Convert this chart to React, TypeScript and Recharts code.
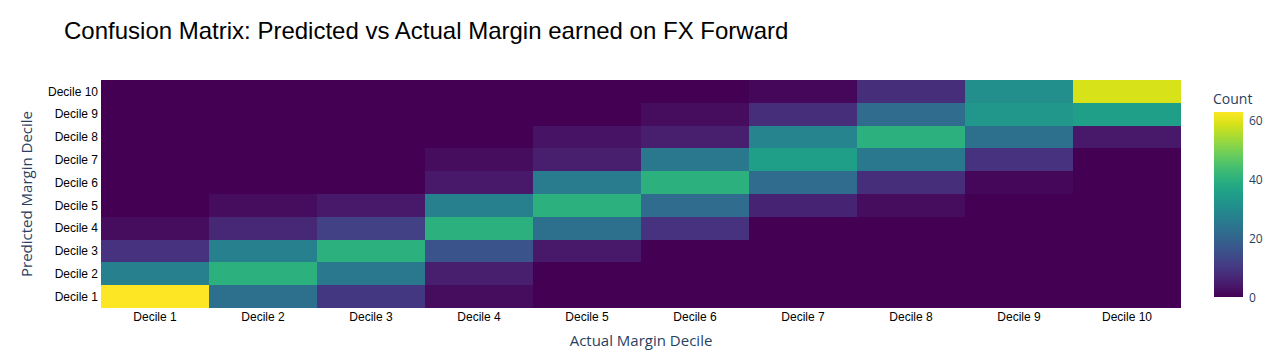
import { Bar, BarChart, Cell, XAxis, YAxis } from "recharts";

const deciles = ["Decile 1", "Decile 2", "Decile 3", "Decile 4", "Decile 5", "Decile 6", "Decile 7", "Decile 8", "Decile 9", "Decile 10"];

// counts per predicted decile (row), across actual deciles 1..10 (columns)
const predicted1 = [63, 23, 10, 2, 0, 0, 0, 0, 0, 0];
const predicted2 = [27, 40, 25, 5, 0, 0, 0, 0, 0, 0];
const predicted3 = [9, 27, 40, 16, 4, 0, 0, 0, 0, 0];
const predicted4 = [2, 7, 12, 40, 23, 9, 0, 0, 0, 0];
const predicted5 = [0, 2, 4, 27, 40, 22, 6, 2, 0, 0];
const predicted6 = [0, 0, 0, 4, 26, 40, 22, 8, 1, 0];
const predicted7 = [0, 0, 0, 2, 5, 25, 35, 25, 9, 0];
const predicted8 = [0, 0, 0, 0, 3, 5, 28, 40, 23, 4];
const predicted9 = [0, 0, 0, 0, 0, 2, 8, 22, 33, 35];
const predicted10 = [0, 0, 0, 0, 0, 0, 1, 8, 31, 59];

const rows = [predicted1, predicted2, predicted3, predicted4, predicted5, predicted6, predicted7, predicted8, predicted9, predicted10];
const zMax = 63;
const colorbarTicks = [0, 20, 40, 60];

const viridis = ["#440154", "#48186a", "#472d7b", "#424086", "#3b528b", "#33638d", "#2c728e", "#26828e", "#21918c", "#1fa088", "#28ae80", "#3fbc73", "#5ec962", "#84d44b", "#addc30", "#d8e219", "#fde725"];

function hex(c: string) {
    return [1, 3, 5].map(i => parseInt(c.slice(i, i + 2), 16));
}

function colorFor(v: number) {
    const t = Math.max(0, Math.min(1, v / zMax)) * (viridis.length - 1);
    const i = Math.min(Math.floor(t), viridis.length - 2);
    const f = t - i;
    const a = hex(viridis[i]);
    const b = hex(viridis[i + 1]);
    const m = a.map((x, k) => Math.round(x + (b[k] - x) * f));
    return `rgb(${m[0]},${m[1]},${m[2]})`;
}

const chartData = deciles.map((d) => {
    const entry: Record<string, string | number> = { actual: d };
    rows.forEach((_, r) => { entry[`p${r}`] = 1; });
    return entry;
});

const navy = "#2a3f5f";

export default function App() {
    const barTop = 104;
    const barBottom = 289;
    const cbY = (v: number) => barBottom - (v / zMax) * (barBottom - barTop);

    return (
        <div style={{ position: "relative", width: 1265, height: 352 }}>
            {/* plot width 1080 so each column band is a whole 108px */}
            <BarChart
                width={1265}
                height={352}
                data={chartData}
                margin={{ top: 72, right: 92, left: 23, bottom: 2 }}
                barCategoryGap={0}
                barGap={0}
                style={{ shapeRendering: "crispEdges" }}
            >
                <XAxis
                    dataKey="actual"
                    axisLine={false}
                    tickLine={false}
                    tickSize={2}
                    height={50}
                    tick={{ fontSize: 12, fill: "#000", fontFamily: "Liberation Sans, Arial" }}
                    interval={0}
                />
                <YAxis
                    type="number"
                    domain={[0, 10]}
                    ticks={deciles.map((_, i) => i + 0.5)}
                    tickFormatter={(v) => deciles[Math.round(v - 0.5)]}
                    axisLine={false}
                    tickLine={false}
                    tickSize={1}
                    width={70}
                    tick={{ fontSize: 12, fill: "#000", fontFamily: "Liberation Sans, Arial" }}
                />
                {rows.map((row, r) => (
                    <Bar key={r} dataKey={`p${r}`} stackId="grid" isAnimationActive={false}>
                        {row.map((v, c) => (
                            <Cell key={c} fill={colorFor(v)} />
                        ))}
                    </Bar>
                ))}
            </BarChart>
            <svg width={1265} height={352} style={{ position: "absolute", left: 0, top: 0, pointerEvents: "none" }}>
                <defs>
                    <linearGradient id="viridis" x1="0" y1="1" x2="0" y2="0">
                        {viridis.map((c, i) => (
                            <stop key={i} offset={`${(i / (viridis.length - 1)) * 100}%`} stopColor={c} />
                        ))}
                    </linearGradient>
                </defs>
                <text x={56} y={31} fontSize={24} fontFamily="Liberation Sans, Arial" fill="#000">
                    Confusion Matrix: Predicted vs Actual Margin earned on FX Forward
                </text>
                <text x={633} y={338} fontSize={15} fontFamily="Open Sans" fill={navy} textAnchor="middle">
                    Actual Margin Decile
                </text>
                <text x={0} y={0} fontSize={15} fontFamily="Open Sans" fill={navy} textAnchor="middle" transform="translate(24,186) rotate(-90)">
                    Predicted Margin Decile
                </text>
                <text x={1205} y={96} fontSize={14} fontFamily="Open Sans" fill={navy}>Count</text>
                <rect x={1206} y={barTop} width={29} height={barBottom - barTop} fill="url(#viridis)" />
                {colorbarTicks.map(t => (
                    <text key={t} x={1241} y={cbY(t) + 4.5} fontSize={12} fontFamily="Open Sans" fill={navy}>{t}</text>
                ))}
            </svg>
        </div>
    );
}
